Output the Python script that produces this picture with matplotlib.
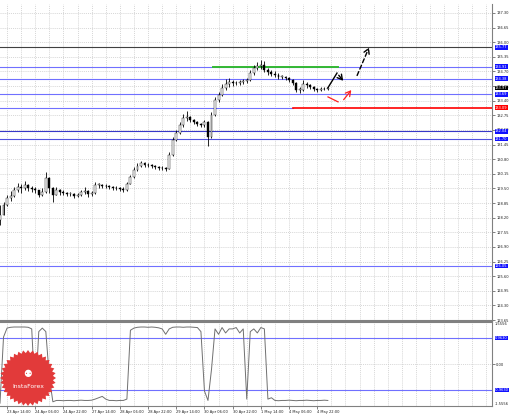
import matplotlib.pyplot as plt
import matplotlib.transforms as mtransforms
from matplotlib.patches import Polygon
import numpy as np

# hourly bar index, one candle every 2 hours
bar_idx = list(range(0, 188, 2))

closes = [128.32, 128.77, 129.08, 129.17, 129.43, 129.57, 129.52, 129.66, 129.52, 129.48,
          129.43, 129.21, 129.35, 129.97, 129.52, 129.21, 129.43, 129.35, 129.30, 129.26,
          129.26, 129.17, 129.21, 129.35, 129.40, 129.26, 129.30, 129.66, 129.66, 129.61,
          129.61, 129.57, 129.52, 129.52, 129.48, 129.43, 129.70, 130.01, 130.32, 130.50,
          130.64, 130.54, 130.54, 130.50, 130.46, 130.41, 130.41, 130.37, 130.99, 131.66,
          131.97, 132.32, 132.63, 132.68, 132.54, 132.45, 132.37, 132.32, 132.45, 131.79,
          132.77, 133.43, 133.66, 133.97, 134.15, 134.23, 134.19, 134.19, 134.23, 134.28,
          134.32, 134.63, 134.86, 134.94, 134.99, 134.77, 134.68, 134.59, 134.54, 134.46,
          134.46, 134.41, 134.32, 134.19, 133.88, 133.88, 134.15, 134.10, 134.01, 133.92,
          133.88, 133.92, 133.94, 133.97]
highs = [128.77, 128.90, 129.20, 129.40, 129.55, 129.75, 129.70, 129.85, 129.70, 129.60,
         129.55, 129.40, 129.50, 130.22, 130.00, 129.55, 129.55, 129.48, 129.42, 129.36,
         129.36, 129.30, 129.32, 129.45, 129.55, 129.45, 129.40, 129.80, 129.75, 129.70,
         129.68, 129.65, 129.60, 129.60, 129.56, 129.55, 129.80, 130.12, 130.45, 130.62,
         130.72, 130.66, 130.62, 130.58, 130.55, 130.50, 130.48, 130.45, 131.10, 131.80,
         132.10, 132.45, 132.80, 132.95, 132.72, 132.58, 132.48, 132.42, 132.55, 132.50,
         132.90, 133.55, 133.80, 134.15, 134.35, 134.40, 134.32, 134.28, 134.32, 134.36,
         134.42, 134.78, 135.00, 135.12, 135.21, 135.15, 134.85, 134.78, 134.70, 134.62,
         134.55, 134.52, 134.46, 134.35, 134.22, 134.00, 134.30, 134.25, 134.15, 134.05,
         133.98, 134.00, 133.99, 134.03]
lows = [127.88, 128.30, 128.70, 128.95, 129.10, 129.35, 129.30, 129.45, 129.40, 129.35,
        129.30, 129.10, 129.15, 129.30, 129.30, 128.90, 129.20, 129.22, 129.20, 129.15,
        129.15, 129.08, 129.10, 129.15, 129.25, 129.12, 129.15, 129.25, 129.50, 129.50,
        129.52, 129.48, 129.45, 129.45, 129.40, 129.35, 129.38, 129.68, 129.98, 130.28,
        130.45, 130.45, 130.45, 130.42, 130.38, 130.33, 130.32, 130.28, 130.35, 130.95,
        131.60, 131.90, 132.25, 132.50, 132.45, 132.35, 132.28, 132.22, 132.25, 131.40,
        131.75, 132.70, 133.35, 133.60, 133.88, 134.00, 134.05, 134.10, 134.12, 134.15,
        134.20, 134.28, 134.55, 134.78, 134.82, 134.68, 134.55, 134.48, 134.45, 134.38,
        134.36, 134.30, 134.22, 134.08, 133.78, 133.75, 133.85, 133.98, 133.90, 133.85,
        133.80, 133.84, 133.86, 133.88]
first_open = 128.10

osc = [-1.45, 1.00, 1.33, 1.36, 1.37, 1.37, 1.37, 1.37, 1.36, 1.30,
       -1.30, 1.20, 1.33, 1.20, -0.50, -1.40, -1.35, -1.35, -1.36, -1.35,
       -1.35, -1.36, -1.35, -1.34, -1.35, -1.35, -1.34, -1.30, -1.25, -1.20,
       -1.30, -1.35, -1.35, -1.36, -1.35, -1.35, -1.30, 1.25, 1.33, 1.36,
       1.37, 1.37, 1.36, 1.37, 1.36, 1.34, 1.30, 1.10, 1.30, 1.36,
       1.37, 1.37, 1.36, 1.37, 1.37, 1.36, 1.35, 1.20, -1.00, -1.35,
       -0.20, 1.30, 1.10, 1.35, 1.15, 1.30, 1.30, 1.35, 1.15, 1.30,
       -1.30, 1.20, 1.30, 1.15, 1.35, 1.30, -1.30, -1.25, -1.35, -1.36,
       -1.35, -1.35, -1.34, -1.35, -1.36, -1.35, -1.35, -1.34, -1.35, -1.36,
       -1.35, -1.35, -1.34, -1.35]

price_ticks = [123.65 + 0.65 * k for k in range(22)]
time_labels = ["23 Apr 14:00", "24 Apr 06:00", "24 Apr 22:00", "27 Apr 14:00",
               "28 Apr 06:00", "28 Apr 22:00", "29 Apr 14:00", "30 Apr 06:00",
               "30 Apr 22:00", "1 May 14:00", "4 May 06:00", "4 May 22:00"]
time_label_idx = [4 + 16 * k for k in range(12)]

# horizontal levels: (price, line colour, start idx, end idx)
levels = [(135.77, "#404040", 0, 280), (134.91, "#7070ff", 0, 280),
          (134.38, "#7070ff", 0, 280), (133.69, "#7070ff", 0, 280),
          (133.09, "#7070ff", 0, 166), (132.04, "#3838c8", 0, 280),
          (131.70, "#5050e0", 0, 280), (126.05, "#7070ff", 0, 280)]
green_level = (134.91, 121, 192)
red_level = (133.09, 166, 280)

black_path_x = [186, 191.2, 195.7]
black_path_y = [133.97, 134.63, 134.19]
dashed_arrow_x = [202, 210]
dashed_arrow_y = [134.41, 135.88]
red_path_x = [186.1, 191.8]
red_path_y = [133.57, 133.35]
red_arrow_x = [194, 200.3]
red_arrow_y = [133.35, 133.97]

osc_levels = [0.9630, -0.9630]

W, H = 510, 415
fig = plt.figure(figsize=(W / 100, H / 100), dpi=100)
ax = fig.add_axes([0, 1 - 321 / H, 492 / W, (321 - 4) / H])
ax2 = fig.add_axes([0, 1 - 406 / H, 492 / W, (406 - 322) / H])

fs = 2.6
box_pad = "square,pad=0.1"
xmax = 492 / 1.7625
grid_idx = [4 + 8 * k for k in range(35)]
for a in (ax, ax2):
    a.set_xlim(0, xmax)
    for s in ("top", "left"):
        a.spines[s].set_visible(False)
    a.spines["right"].set_color("#808080")
    a.set_xticks(grid_idx, minor=True)
    a.grid(True, which="both", color="#c8c8c8", linestyle=(0, (1.5, 1.5)), linewidth=0.5)
    a.set_axisbelow(True)
    a.yaxis.tick_right()
    a.tick_params(axis="x", which="minor", length=0)

ax.spines["bottom"].set_color("#808080")
ax.spines["bottom"].set_linewidth(1.5)
ax.set_xticks([])
ax.set_ylim(123.61, 137.70)
ax.set_yticks(price_ticks)
ax.set_yticklabels([f"{t:.2f}" for t in price_ticks])
ax.tick_params(axis="y", labelsize=fs, length=2, width=0.4, pad=1, colors="#202020")

# levels
for p, c, x0, x1 in levels:
    ax.plot([x0, x1], [p, p], color=c, lw=0.8, zorder=2)
ax.plot([green_level[1], green_level[2]], [green_level[0]] * 2, color="#33b833", lw=1.4, zorder=3)
ax.plot([red_level[1], red_level[2]], [red_level[0]] * 2, color="#ff0000", lw=1.2, zorder=3)

# candles
opens = [first_open] + closes[:-1]
ax.vlines(bar_idx, lows, highs, color="black", lw=0.6, zorder=4)
for i, o, c in zip(bar_idx, opens, closes):
    fc = "white" if c >= o else "black"
    ax.bar(i, max(abs(c - o), 0.02), bottom=min(o, c), width=1.1,
           color=fc, edgecolor="black", lw=0.3, zorder=5)

# drawn arrows
ax.plot(black_path_x[:-1], black_path_y[:-1], color="black", lw=1.0, zorder=6)
ax.annotate("", xy=(black_path_x[-1], black_path_y[-1]),
            xytext=(black_path_x[-2], black_path_y[-2]),
            arrowprops=dict(arrowstyle="->,head_length=0.35,head_width=0.2", color="black", lw=1.0))
ax.annotate("", xy=(dashed_arrow_x[1], dashed_arrow_y[1]),
            xytext=(dashed_arrow_x[0], dashed_arrow_y[0]),
            arrowprops=dict(arrowstyle="->,head_length=0.35,head_width=0.2", color="black",
                            lw=1.0, linestyle=(0, (3, 2))))
ax.plot(red_path_x, red_path_y, color="#ff2020", lw=0.9, zorder=6)
ax.annotate("", xy=(red_arrow_x[1], red_arrow_y[1]),
            xytext=(red_arrow_x[0], red_arrow_y[0]),
            arrowprops=dict(arrowstyle="->,head_length=0.35,head_width=0.2", color="#ff2020", lw=0.9))

# right-side labels
lbl_tr = mtransforms.blended_transform_factory(ax.transAxes, ax.transData)
for p, c, x0, x1 in levels:
    bg = "#ff0000" if p == red_level[0] else "#1010ff"
    ax.text(1.006, p, f"{p:.2f}", transform=lbl_tr, ha="left", va="center", fontsize=fs,
            color="white", bbox=dict(boxstyle=box_pad, fc=bg, ec="none"),
            zorder=10, clip_on=False)
ax.text(1.006, closes[-1], f"{closes[-1]:.2f}", transform=lbl_tr, ha="left", va="center",
        fontsize=fs, color="white", bbox=dict(boxstyle=box_pad, fc="black", ec="none"),
        zorder=11, clip_on=False)

# oscillator panel
ax2.spines["top"].set_visible(True)
ax2.spines["top"].set_color("#808080")
ax2.spines["top"].set_linewidth(1.5)
ax2.spines["bottom"].set_color("#808080")
ax2.set_ylim(-1.5556, 1.5556)
ax2.set_yticks([0.0])
ax2.set_yticklabels(["0.00"])
ax2.tick_params(axis="y", labelsize=fs, length=2, width=0.4, pad=1, colors="#202020")
osc_tr = mtransforms.blended_transform_factory(ax2.transAxes, ax2.transData)
ax2.text(1.006, 1.5556, "1.5556", transform=osc_tr, ha="left", va="top", fontsize=fs,
         color="#202020", clip_on=False)
ax2.text(1.006, -1.5556, "-1.5556", transform=osc_tr, ha="left", va="bottom", fontsize=fs,
         color="#202020", clip_on=False)
for v in osc_levels:
    ax2.axhline(v, color="#7070ff", lw=0.8)
    ax2.text(1.006, v, f"{v:.4f}", transform=osc_tr, ha="left", va="center", fontsize=fs,
             color="white", bbox=dict(boxstyle=box_pad, fc="#1010ff", ec="none"), clip_on=False)
ax2.plot(bar_idx, osc, color="#707070", lw=0.7)
ax2.set_xticks(time_label_idx)
ax2.set_xticklabels(time_labels, ha="left")
ax2.tick_params(axis="x", which="major", labelsize=fs, length=2, width=0.4, pad=1, colors="#202020")

# InstaForex badge
cx, cy, r_out, r_in, n = 0.28, (H - 378) / 100, 0.28, 0.25, 36
ang = np.linspace(0, 2 * np.pi, 2 * n, endpoint=False)
rad = np.where(np.arange(2 * n) % 2 == 0, r_out, r_in)
star = Polygon(np.column_stack([cx + rad * np.cos(ang), cy + rad * np.sin(ang)]),
               closed=True, fc="#e23a3a", ec="none", transform=fig.dpi_scale_trans, zorder=20)
fig.patches.append(star)
fig.text(cx, cy + 0.04, "\u2689", transform=fig.dpi_scale_trans, ha="center", va="center",
         fontsize=7, color="white", zorder=21)
fig.text(cx, cy - 0.08, "InstaForex", transform=fig.dpi_scale_trans, ha="center", va="center",
         fontsize=4.4, color="white", zorder=21)

fig.savefig("out.png", dpi=100, facecolor="white")
